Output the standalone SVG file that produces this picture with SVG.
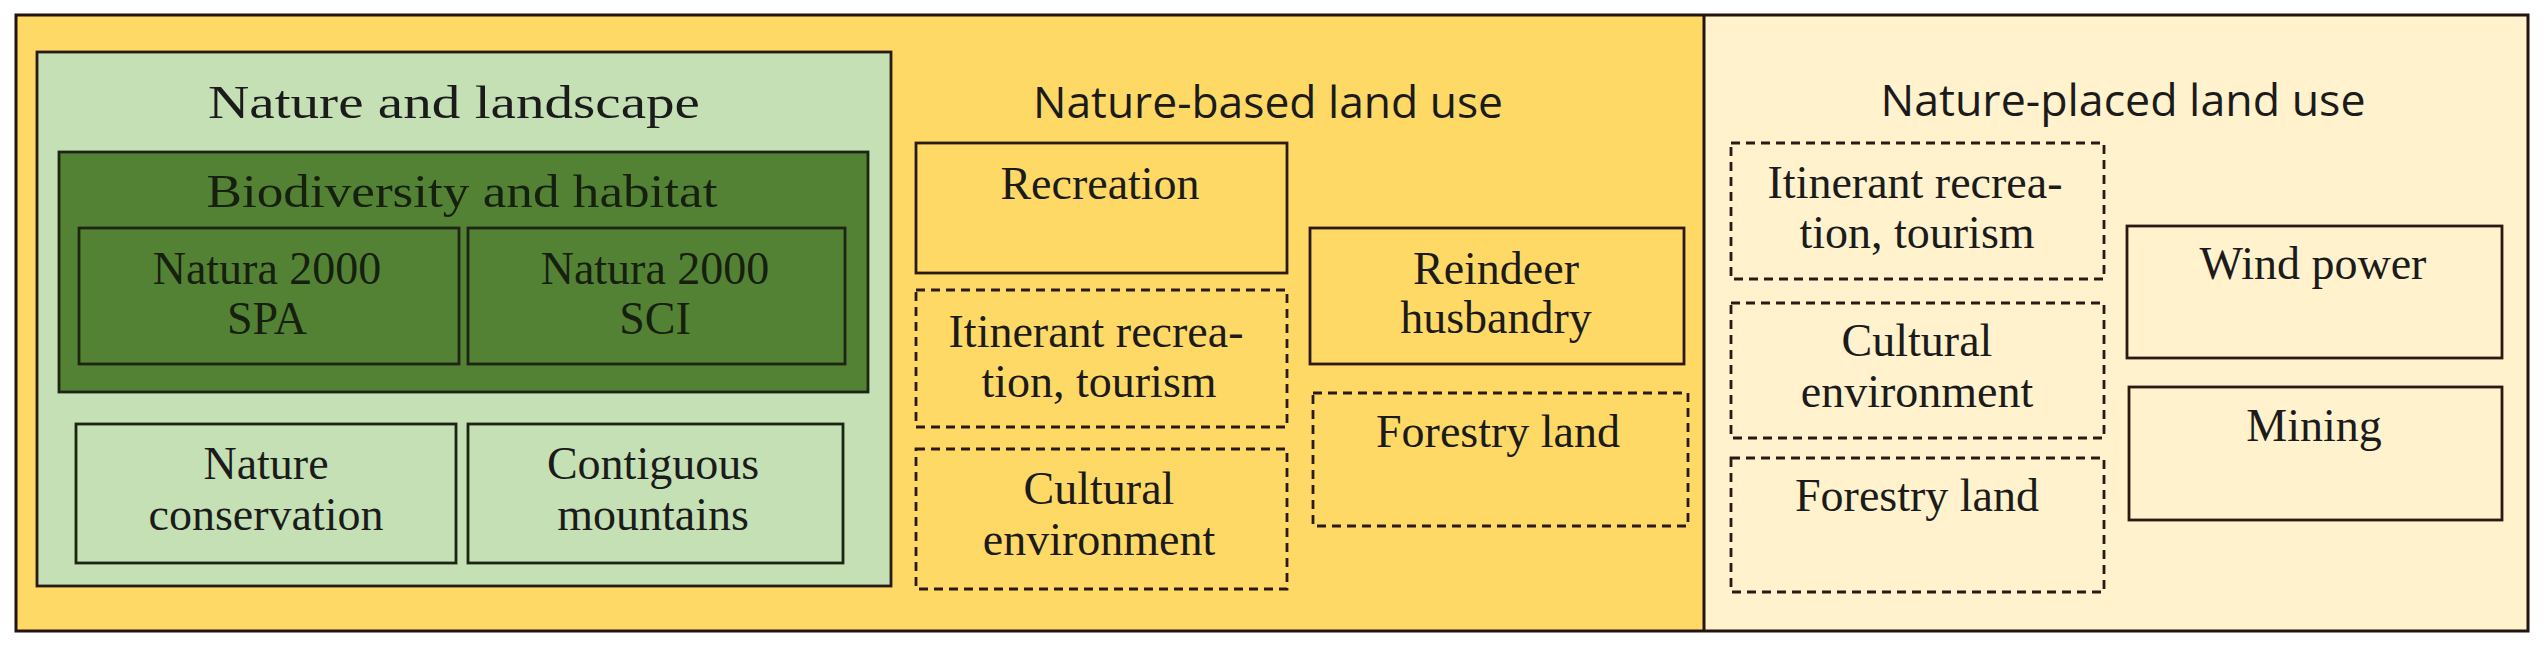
<svg xmlns="http://www.w3.org/2000/svg" width="2548" height="652" viewBox="0 0 2548 652">
<style>
.bg{stroke:none}
.frame{fill:none;stroke:#24130f;stroke-width:3}
.box{stroke:#2a1a16;stroke-width:2.8}
.dash{stroke:#2a1a16;stroke-width:2.8;stroke-dasharray:9 6;fill:none}
.dk{stroke:#1c2512;stroke-width:2.8}
.t{font-family:"Liberation Serif","DejaVu Serif",serif;font-size:46px;fill:#1b1b1b;text-anchor:middle}
.tg{fill:#16200e}
.h{font-family:"Open Sans","Noto Sans","Liberation Sans",sans-serif;font-size:44px;fill:#1b1b1b;text-anchor:middle}
</style>
<rect class="bg" x="0" y="0" width="2548" height="652" fill="#ffffff"/>
<rect class="bg" x="16" y="15" width="1688" height="616" fill="#FFD966"/>
<rect class="bg" x="1704" y="15" width="824" height="616" fill="#FFF2CC"/>
<rect class="frame" x="16" y="15" width="2512" height="616"/>
<line class="frame" x1="1704" y1="15" x2="1704" y2="631"/>

<g id="nature-landscape">
<rect class="box" x="37" y="52" width="854" height="534" fill="#C5E0B4"/>
<text class="t" x="454" y="118" font-size="54" textLength="492" lengthAdjust="spacingAndGlyphs">Nature and landscape</text>
</g>
<g id="biodiversity">
<rect class="dk" x="59" y="152" width="809" height="240" fill="#548235"/>
<text class="t tg" x="462" y="207" font-size="53" textLength="511" lengthAdjust="spacingAndGlyphs">Biodiversity and habitat</text>
</g>
<g id="natura-spa">
<rect class="dk" x="79" y="228" width="380" height="136" fill="#548235"/>
<text class="t tg" x="267" y="284">Natura 2000</text>
<text class="t tg" x="267" y="334">SPA</text>
</g>
<g id="natura-sci">
<rect class="dk" x="468" y="228" width="377" height="136" fill="#548235"/>
<text class="t tg" x="655" y="284">Natura 2000</text>
<text class="t tg" x="655" y="334">SCI</text>
</g>
<g id="nature-conservation">
<rect class="dk" x="76" y="424" width="380" height="139" fill="#C5E0B4"/>
<text class="t" x="266" y="479">Nature</text>
<text class="t" x="266" y="530">conservation</text>
</g>
<g id="contiguous-mountains">
<rect class="dk" x="468" y="424" width="375" height="139" fill="#C5E0B4"/>
<text class="t" x="653" y="479">Contiguous</text>
<text class="t" x="653" y="530">mountains</text>
</g>

<g id="nature-based">
<text class="h" x="1268" y="118" textLength="470" lengthAdjust="spacingAndGlyphs">Nature-based land use</text>
</g>
<g id="recreation">
<rect class="box" x="916" y="143" width="371" height="130" fill="#FFD966"/>
<text class="t" x="1100" y="199">Recreation</text>
</g>
<g id="itinerant-mid">
<rect class="dash" x="916" y="290" width="371" height="137"/>
<text class="t" x="1096" y="347">Itinerant recrea-</text>
<text class="t" x="1099" y="397">tion, tourism</text>
</g>
<g id="cultural-mid">
<rect class="dash" x="916" y="449" width="371" height="140"/>
<text class="t" x="1099" y="504">Cultural</text>
<text class="t" x="1099" y="555">environment</text>
</g>
<g id="reindeer">
<rect class="box" x="1310" y="228" width="374" height="136" fill="#FFD966"/>
<text class="t" x="1496" y="284">Reindeer</text>
<text class="t" x="1496" y="333">husbandry</text>
</g>
<g id="forestry-mid">
<rect class="dash" x="1313" y="393" width="375" height="133"/>
<text class="t" x="1498" y="447">Forestry land</text>
</g>

<g id="nature-placed">
<text class="h" x="2123" y="116" textLength="485" lengthAdjust="spacingAndGlyphs">Nature-placed land use</text>
</g>
<g id="itinerant-right">
<rect class="dash" x="1731" y="143" width="373" height="136"/>
<text class="t" x="1915" y="198">Itinerant recrea-</text>
<text class="t" x="1917" y="248">tion, tourism</text>
</g>
<g id="cultural-right">
<rect class="dash" x="1731" y="303" width="373" height="135"/>
<text class="t" x="1917" y="356">Cultural</text>
<text class="t" x="1917" y="407">environment</text>
</g>
<g id="forestry-right">
<rect class="dash" x="1731" y="458" width="373" height="134"/>
<text class="t" x="1917" y="511">Forestry land</text>
</g>
<g id="wind-power">
<rect class="box" x="2127" y="226" width="375" height="132" fill="#FFF2CC"/>
<text class="t" x="2313" y="279">Wind power</text>
</g>
<g id="mining">
<rect class="box" x="2129" y="387" width="373" height="133" fill="#FFF2CC"/>
<text class="t" x="2314" y="441">Mining</text>
</g>
</svg>
